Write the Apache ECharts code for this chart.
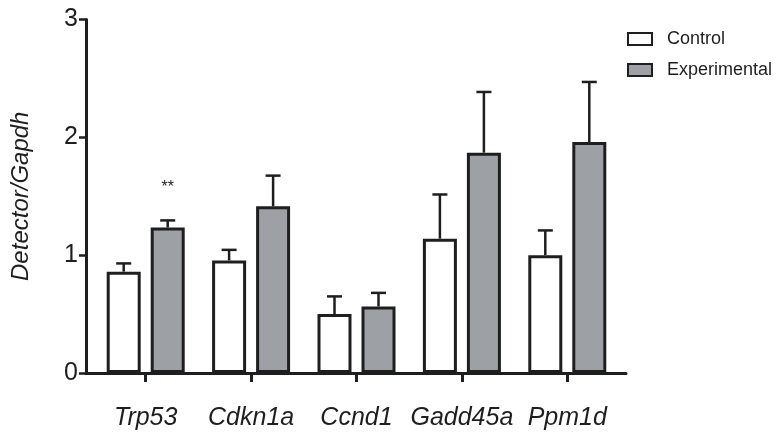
<!DOCTYPE html>
<html>
<head>
<meta charset="utf-8">
<script src="https://cdn.jsdelivr.net/npm/echarts@6/dist/echarts.min.js"></script>
<style>
html,body{margin:0;padding:0;background:#fff;}
#chart{width:778px;height:438px;}
</style>
</head>
<body>
<div id="chart"></div>
<script>
const categories = ['Trp53', 'Cdkn1a', 'Ccnd1', 'Gadd45a', 'Ppm1d'];
const controlMean = [0.86, 0.955, 0.50, 1.14, 1.00];
const controlUpper = [0.93, 1.045, 0.65, 1.515, 1.21];
const experimentalMean = [1.235, 1.415, 0.565, 1.87, 1.96];
const experimentalUpper = [1.295, 1.675, 0.68, 2.385, 2.47];
const significance = ['**', '', '', '', ''];
const yMin = 0, yMax = 3, yInterval = 1;

const INK = '#1e1e1e';
const GRAY = '#9da0a4';
const FONT = 'Liberation Sans, Arial, Helvetica, sans-serif';
const BAR_W = 34;
const BAR_GAP_PX = 10;

function errorSeries(name, upper, mean, side, labels) {
  return {
    type: 'custom',
    name: name + ' error',
    xAxisIndex: 0, yAxisIndex: 0,
    z: 5,
    silent: true,
    data: upper.map((u, i) => [i, mean[i], u]),
    renderItem: function (params, api) {
      const i = api.value(0);
      const off = side * (BAR_W + BAR_GAP_PX) / 2;
      const base = api.coord([i, api.value(1)]);
      const top = api.coord([i, api.value(2)]);
      const x = base[0] + off;
      const children = [
        { type: 'line', shape: { x1: x, y1: base[1], x2: x, y2: top[1] }, style: { stroke: INK, lineWidth: 2.5 } },
        { type: 'line', shape: { x1: x - 7.5, y1: top[1], x2: x + 7.5, y2: top[1] }, style: { stroke: INK, lineWidth: 2.5 } }
      ];
      if (labels && labels[i]) {
        children.push({ type: 'text', style: { text: labels[i], x: x, y: top[1] - 33, align: 'center', verticalAlign: 'middle', font: '16px ' + FONT, fill: INK } });
      }
      return { type: 'group', children: children };
    }
  };
}

const chart = echarts.init(document.getElementById('chart'));
chart.setOption({
  animation: false,
  backgroundColor: '#fff',
  grid: [
    { left: 93, right: 158, top: 19.5, bottom: 65 },
    { left: 86, right: 152, top: 19.5, bottom: 65 }
  ],
  legend: {
    orient: 'vertical',
    left: 627, top: 30,
    padding: 0,
    itemWidth: 24, itemHeight: 12,
    itemGap: 13,
    icon: 'rect',
    textStyle: { fontFamily: FONT, fontSize: 18, color: INK, padding: [0, 0, 0, 10] },
    data: ['Control', 'Experimental']
  },
  xAxis: [
    {
      type: 'category', gridIndex: 0, data: categories,
      axisLine: { show: false },
      axisTick: { show: true, alignWithLabel: true, interval: 0, length: 9, lineStyle: { color: INK, width: 3 } },
      axisLabel: { interval: 0, margin: 33, fontFamily: FONT, fontSize: 25, fontStyle: 'italic', color: INK }
    },
    {
      type: 'category', gridIndex: 1, data: categories,
      axisLine: { show: true, lineStyle: { color: INK, width: 3 } },
      axisTick: { show: false }, axisLabel: { show: false }
    }
  ],
  yAxis: [
    { type: 'value', gridIndex: 0, min: yMin, max: yMax, interval: yInterval, show: false },
    {
      type: 'value', gridIndex: 1, min: yMin, max: yMax, interval: yInterval,
      name: 'Detector/Gapdh', nameLocation: 'middle', nameGap: 53,
      nameTextStyle: { fontFamily: FONT, fontSize: 24, fontStyle: 'italic', color: INK },
      axisLine: { show: true, lineStyle: { color: INK, width: 3 } },
      axisTick: { show: true, length: 7, lineStyle: { color: INK, width: 2.5 } },
      axisLabel: { margin: 8, fontFamily: FONT, fontSize: 25, color: INK },
      splitLine: { show: false }
    }
  ],
  series: [
    {
      name: 'Control', type: 'bar', xAxisIndex: 0, yAxisIndex: 0,
      data: controlMean, barWidth: BAR_W, barGap: (BAR_GAP_PX / BAR_W * 100) + '%',
      itemStyle: { color: '#ffffff', borderColor: INK, borderWidth: 3 }
    },
    {
      name: 'Experimental', type: 'bar', xAxisIndex: 0, yAxisIndex: 0,
      data: experimentalMean, barWidth: BAR_W,
      itemStyle: { color: GRAY, borderColor: INK, borderWidth: 3 }
    },
    errorSeries('Control', controlUpper, controlMean, -1, null),
    errorSeries('Experimental', experimentalUpper, experimentalMean, 1, significance)
  ]
});
</script>
</body>
</html>
